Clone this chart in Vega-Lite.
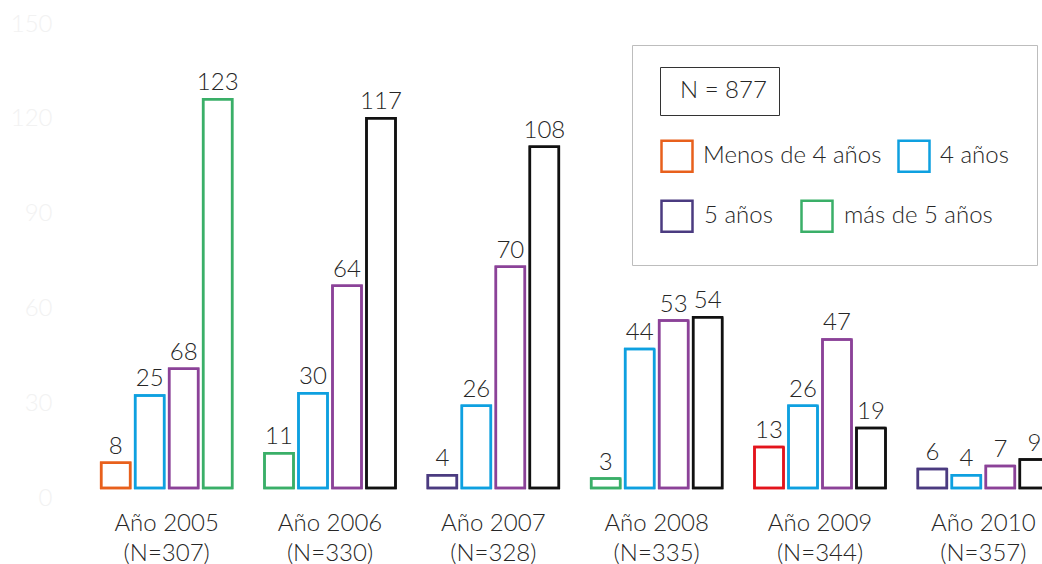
{
  "$schema": "https://vega.github.io/schema/vega-lite/v6.json",
  "width": 957,
  "height": 474,
  "autosize": {"type": "none"},
  "padding": {"left": 85, "top": 14, "right": 0, "bottom": 76},
  "background": "white",
  "config": {"view": {"stroke": null}, "font": "Lato"},
  "data": {
    "values": [
      {"anio": "Año 2005", "n": "(N=307)", "serie": "Menos de 4 años", "valor": 8, "etiqueta": "8"},
      {"anio": "Año 2005", "n": "(N=307)", "serie": "4 años", "valor": 29.3, "etiqueta": "25"},
      {"anio": "Año 2005", "n": "(N=307)", "serie": "5 años", "valor": 37.7, "etiqueta": "68"},
      {"anio": "Año 2005", "n": "(N=307)", "serie": "más de 5 años", "valor": 123, "etiqueta": "123"},
      {"anio": "Año 2006", "n": "(N=330)", "serie": "Menos de 4 años", "valor": 11, "etiqueta": "11"},
      {"anio": "Año 2006", "n": "(N=330)", "serie": "4 años", "valor": 30, "etiqueta": "30"},
      {"anio": "Año 2006", "n": "(N=330)", "serie": "5 años", "valor": 64, "etiqueta": "64"},
      {"anio": "Año 2006", "n": "(N=330)", "serie": "más de 5 años", "valor": 117, "etiqueta": "117"},
      {"anio": "Año 2007", "n": "(N=328)", "serie": "Menos de 4 años", "valor": 4, "etiqueta": "4"},
      {"anio": "Año 2007", "n": "(N=328)", "serie": "4 años", "valor": 26, "etiqueta": "26"},
      {"anio": "Año 2007", "n": "(N=328)", "serie": "5 años", "valor": 70, "etiqueta": "70"},
      {"anio": "Año 2007", "n": "(N=328)", "serie": "más de 5 años", "valor": 108, "etiqueta": "108"},
      {"anio": "Año 2008", "n": "(N=335)", "serie": "Menos de 4 años", "valor": 3, "etiqueta": "3"},
      {"anio": "Año 2008", "n": "(N=335)", "serie": "4 años", "valor": 44, "etiqueta": "44"},
      {"anio": "Año 2008", "n": "(N=335)", "serie": "5 años", "valor": 53, "etiqueta": "53"},
      {"anio": "Año 2008", "n": "(N=335)", "serie": "más de 5 años", "valor": 54, "etiqueta": "54"},
      {"anio": "Año 2009", "n": "(N=344)", "serie": "Menos de 4 años", "valor": 13, "etiqueta": "13"},
      {"anio": "Año 2009", "n": "(N=344)", "serie": "4 años", "valor": 26, "etiqueta": "26"},
      {"anio": "Año 2009", "n": "(N=344)", "serie": "5 años", "valor": 47, "etiqueta": "47"},
      {"anio": "Año 2009", "n": "(N=344)", "serie": "más de 5 años", "valor": 19, "etiqueta": "19"},
      {"anio": "Año 2010", "n": "(N=357)", "serie": "Menos de 4 años", "valor": 6, "etiqueta": "6"},
      {"anio": "Año 2010", "n": "(N=357)", "serie": "4 años", "valor": 4, "etiqueta": "4"},
      {"anio": "Año 2010", "n": "(N=357)", "serie": "5 años", "valor": 7, "etiqueta": "7"},
      {"anio": "Año 2010", "n": "(N=357)", "serie": "más de 5 años", "valor": 9, "etiqueta": "9"}
    ]
  },
  "transform": [
    {"calculate": "datum.anio + '|' + datum.n", "as": "grupo"},
    {"calculate": "datum.anio + '|' + datum.serie", "as": "clave"},
    {"calculate": "'N = 877'", "as": "total"}
  ],
  "resolve": {"scale": {"stroke": "independent"}, "legend": {"stroke": "independent"}},
  "encoding": {
    "x": {
      "field": "grupo",
      "type": "nominal",
      "sort": null,
      "scale": {"range": [0, 980], "paddingInner": 0.198, "paddingOuter": 0.099},
      "axis": {
        "title": null,
        "domain": false,
        "ticks": false,
        "labelAngle": 0,
        "labelExpr": "split(datum.label, '|')",
        "labelFont": "Lato",
        "labelFontWeight": 300,
        "labelFontSize": 24,
        "labelLineHeight": 30,
        "labelPadding": 23,
        "labelColor": "#262626",
        "labelLimit": 0
      }
    },
    "xOffset": {
      "field": "serie",
      "type": "nominal",
      "sort": ["Menos de 4 años", "4 años", "5 años", "más de 5 años"],
      "scale": {"paddingInner": 0.147, "paddingOuter": 0}
    },
    "y": {
      "field": "valor",
      "type": "quantitative",
      "scale": {"domain": [0, 150], "nice": false},
      "axis": {
        "title": null,
        "grid": false,
        "domain": false,
        "ticks": false,
        "values": [0, 30, 60, 90, 120, 150],
        "labelFont": "Lato",
        "labelFontWeight": 300,
        "labelFontSize": 24,
        "labelColor": "#f2f2f2",
        "labelPadding": 33,
        "labelOffset": 10,
        "labelFlush": false,
        "labelOverlap": false
      }
    }
  },
  "layer": [
    {
      "mark": {"type": "bar", "filled": false, "strokeWidth": 2.5},
      "encoding": {
        "stroke": {
          "field": "clave",
          "type": "nominal",
          "scale": {
            "domain": [
              "Menos de 4 años", "4 años", " ", "  ",
              "Año 2005|Menos de 4 años", "Año 2005|4 años", "Año 2005|5 años", "Año 2005|más de 5 años",
              "Año 2006|Menos de 4 años", "Año 2006|4 años", "Año 2006|5 años", "Año 2006|más de 5 años",
              "Año 2007|Menos de 4 años", "Año 2007|4 años", "Año 2007|5 años", "Año 2007|más de 5 años",
              "Año 2008|Menos de 4 años", "Año 2008|4 años", "Año 2008|5 años", "Año 2008|más de 5 años",
              "Año 2009|Menos de 4 años", "Año 2009|4 años", "Año 2009|5 años", "Año 2009|más de 5 años",
              "Año 2010|Menos de 4 años", "Año 2010|4 años", "Año 2010|5 años", "Año 2010|más de 5 años"
            ],
            "range": [
              "#e8601c", "#0ea0e0", "transparent", "transparent",
              "#e8601c", "#0ea0e0", "#8b4298", "#3aaf68",
              "#3aaf68", "#0ea0e0", "#8b4298", "#111111",
              "#4b3b80", "#0ea0e0", "#8b4298", "#111111",
              "#3aaf68", "#0ea0e0", "#8b4298", "#111111",
              "#e3141c", "#0ea0e0", "#8b4298", "#111111",
              "#4b3b80", "#0ea0e0", "#8b4298", "#111111"
            ]
          },
          "legend": {
            "orient": "none",
            "legendX": 547,
            "legendY": 31,
            "direction": "horizontal",
            "title": "N = 877",
            "titleOpacity": 0,
            "titleFontSize": 25,
            "titlePadding": 41,
            "values": ["Menos de 4 años", "4 años", " ", "  "],
            "columns": 2,
            "columnPadding": 11,
            "rowPadding": 18,
            "symbolType": "square",
            "symbolSize": 961,
            "symbolStrokeWidth": 2.5,
            "symbolFillColor": "white",
            "labelFont": "Lato",
            "labelFontWeight": 300,
            "labelFontSize": 24,
            "labelColor": "#262626",
            "labelOffset": 9,
            "labelLimit": 0,
            "padding": 28,
            "strokeColor": "#bdbdbd"
          }
        },
        "strokeDash": {
          "field": "total",
          "type": "nominal",
          "scale": {"range": [[1, 0]]},
          "legend": {
            "orient": "none",
            "legendX": 575,
            "legendY": 53,
            "title": null,
            "padding": 12,
            "strokeColor": "#333333",
            "symbolOpacity": 0,
            "symbolSize": 4,
            "symbolStrokeWidth": 0,
            "labelFont": "Lato",
            "labelFontWeight": 300,
            "labelFontSize": 24,
            "labelColor": "#262626",
            "labelOffset": -16,
            "labelLimit": 0
          }
        }
      }
    },
    {
      "mark": {"type": "bar", "filled": false, "strokeWidth": 2.5},
      "encoding": {
        "stroke": {
          "field": "clave",
          "type": "nominal",
          "scale": {
            "domain": [
              "5 años", "más de 5 años",
              "Año 2005|Menos de 4 años", "Año 2005|4 años", "Año 2005|5 años", "Año 2005|más de 5 años",
              "Año 2006|Menos de 4 años", "Año 2006|4 años", "Año 2006|5 años", "Año 2006|más de 5 años",
              "Año 2007|Menos de 4 años", "Año 2007|4 años", "Año 2007|5 años", "Año 2007|más de 5 años",
              "Año 2008|Menos de 4 años", "Año 2008|4 años", "Año 2008|5 años", "Año 2008|más de 5 años",
              "Año 2009|Menos de 4 años", "Año 2009|4 años", "Año 2009|5 años", "Año 2009|más de 5 años",
              "Año 2010|Menos de 4 años", "Año 2010|4 años", "Año 2010|5 años", "Año 2010|más de 5 años"
            ],
            "range": [
              "#4b3b80", "#3aaf68",
              "#e8601c", "#0ea0e0", "#8b4298", "#3aaf68",
              "#3aaf68", "#0ea0e0", "#8b4298", "#111111",
              "#4b3b80", "#0ea0e0", "#8b4298", "#111111",
              "#3aaf68", "#0ea0e0", "#8b4298", "#111111",
              "#e3141c", "#0ea0e0", "#8b4298", "#111111",
              "#4b3b80", "#0ea0e0", "#8b4298", "#111111"
            ]
          },
          "legend": {
            "orient": "none",
            "legendX": 575,
            "legendY": 185,
            "direction": "horizontal",
            "title": null,
            "values": ["5 años", "más de 5 años"],
            "columns": 2,
            "columnPadding": 23,
            "padding": 0,
            "symbolType": "square",
            "symbolSize": 961,
            "symbolStrokeWidth": 2.5,
            "symbolFillColor": "white",
            "labelFont": "Lato",
            "labelFontWeight": 300,
            "labelFontSize": 24,
            "labelColor": "#262626",
            "labelOffset": 10,
            "labelLimit": 0
          }
        }
      }
    },
    {
      "mark": {"type": "text", "baseline": "alphabetic", "dy": -9, "fontSize": 24, "font": "Lato", "fontWeight": 300, "color": "#262626"},
      "encoding": {"text": {"field": "etiqueta"}}
    }
  ]
}
